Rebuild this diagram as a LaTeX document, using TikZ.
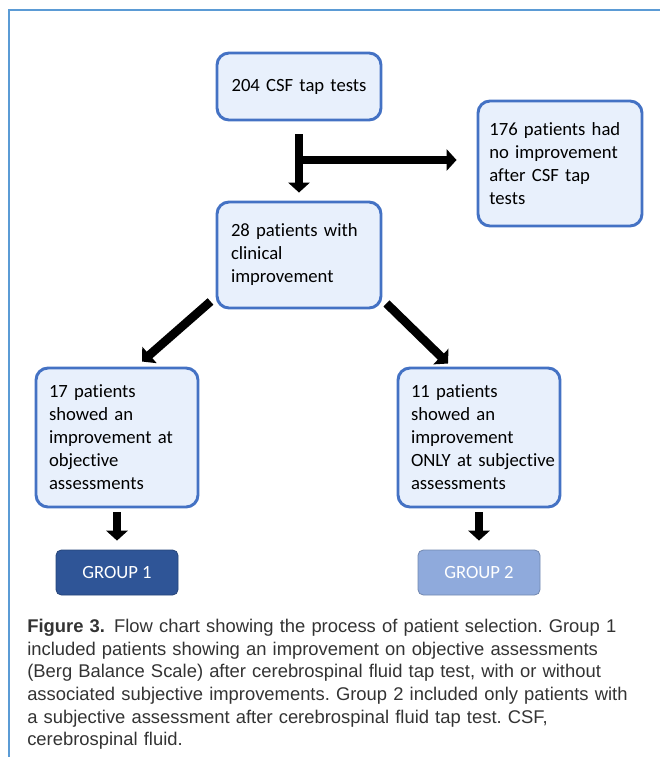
\documentclass[tikz,border=0pt]{standalone}
\usepackage{fontspec}
\setmainfont{Carlito}[Ligatures=NoCommon]
\newfontfamily\capfont{Liberation Sans}
\usetikzlibrary{arrows.meta,calc}
\definecolor{frameblue}{HTML}{5B9BD5}
\definecolor{boxblue}{HTML}{4472C4}
\definecolor{boxfill}{HTML}{E8F0FC}
\definecolor{grpdark}{HTML}{2F5597}
\definecolor{grplight}{HTML}{8FAADC}
\frenchspacing
\begin{document}
\begin{tikzpicture}[x=0.75pt,y=-0.75pt,
    flowbox/.style={draw=boxblue, line width=2.2pt, fill=boxfill, rounded corners=9pt,
      minimum width=123pt, text width=102pt, align=left, inner ysep=2pt,
      font=\fontsize{14}{17.25}\selectfont},
    groupbox/.style={draw=#1!80!black, line width=.6pt, fill=#1, rounded corners=4pt,
      minimum width=91.5pt, minimum height=33.75pt, text=white,
      font=\fontsize{14}{17.25}\selectfont},
    fat/.style={line width=6.5pt, -{Triangle[width=16pt,length=7.5pt]}}]
  \useasboundingbox (0,0) rectangle (660,757);
  \draw[frameblue, line width=1.6pt] (9,757) -- (9,10) -- (660,10);
  % boxes
  \node[flowbox, minimum height=50.25pt, align=center] (tests) at (299,86.5) {204 CSF tap tests};
  \node[flowbox, minimum height=93.75pt, text width=106pt] (noimpr) at (560,163.5) {176 patients had\\no improvement\\after CSF tap\\tests};
  \node[flowbox, minimum height=79.5pt] (clinical) at (299,255) {28 patients with\\clinical\\improvement};
  \node[flowbox, minimum width=121.5pt, minimum height=104.25pt] (objective) at (117,437.5) {17 patients\\showed an\\improvement at\\objective\\assessments};
  \node[flowbox, minimum width=121.5pt, minimum height=104.25pt] (subjective) at (479,437.5) {11 patients\\showed an\\improvement\\\mbox{ONLY at subjective}\\assessments};
  \node[groupbox=grpdark] (group1) at (117,572.5) {GROUP 1};
  \node[groupbox=grplight] (group2) at (479,572.5) {GROUP 2};
  % arrows
  \coordinate (split) at (299,160);
  \draw[fat, shorten <=9.75pt, shorten >=6pt] (tests) -- (clinical);
  \draw[fat, shorten >=15pt] (split) -- (split -| noimpr.west);
  \draw[fat] ($(clinical.south west)+(-5,-8)$) -- ($(objective.north)+(25,-5)$);
  \draw[fat] ($(clinical.south east)+(4,-6)$) -- ($(subjective.north)+(-31,-3)$);
  \draw[fat, shorten <=3pt, shorten >=6.75pt] (objective) -- (group1);
  \draw[fat, shorten <=3pt, shorten >=6.75pt] (subjective) -- (group2);
  % caption
  \node[anchor=north west, inner sep=0pt, text width=470pt, align=left, text=black!80,
    font=\capfont\fontsize{13.8}{16.95}\selectfont] (caption) at (27,619)
    {\textbf{Figure 3.}\hspace{.5em}Flow chart showing the process of patient selection. Group 1\\
     included patients showing an improvement on objective assessments\\
     (Berg Balance Scale) after cerebrospinal fluid tap test, with or without\\
     associated subjective improvements. Group 2 included only patients with\\
     a subjective assessment after cerebrospinal fluid tap test. CSF,\\
     cerebrospinal fluid.};
\end{tikzpicture}
\end{document}
